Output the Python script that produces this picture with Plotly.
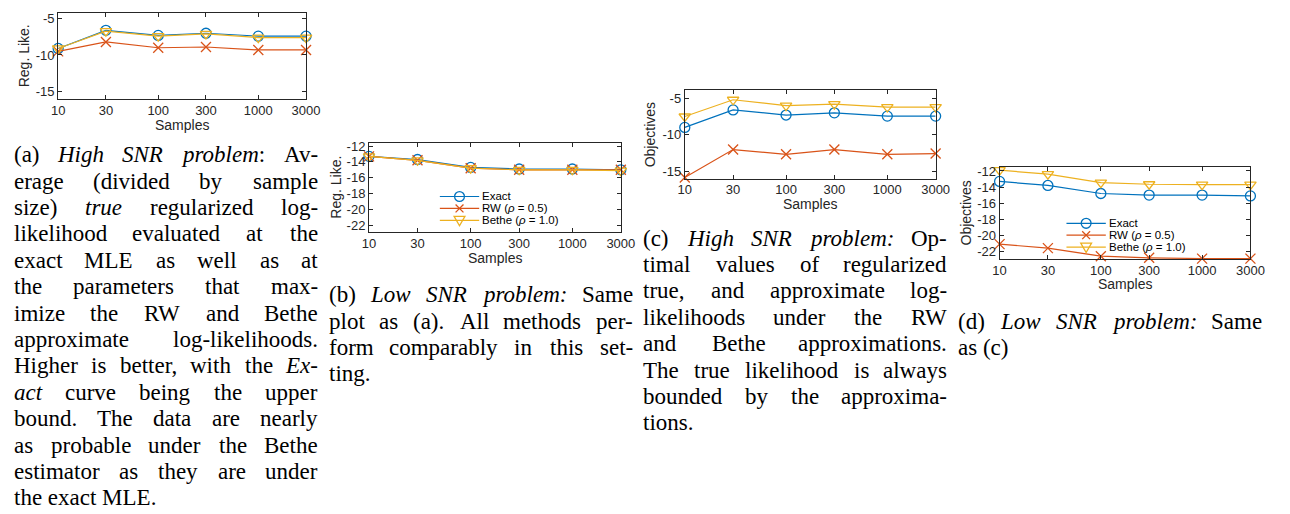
import math
import plotly.graph_objects as go

W, H = 1290, 514
SANS = "Liberation Sans, Arial, Helvetica, sans-serif"
SERIF = "Liberation Serif, Times New Roman, serif"

# ---------------- data ----------------
samples = [10, 30, 100, 300, 1000, 3000]
x_tick_text = ["10", "30", "100", "300", "1000", "3000"]

y_ticks_high = [-15, -10, -5]
y_ticks_high_text = ["-15", "-10", "-5"]
y_ticks_low = [-22, -20, -18, -16, -14, -12]
y_ticks_low_text = ["-22", "-20", "-18", "-16", "-14", "-12"]

series_names = ["Exact", "RW (<i>ρ</i> = 0.5)", "Bethe (<i>ρ</i> = 1.0)"]

# (a) High SNR, regularized likelihood
high_like_exact = [-9.1, -6.6, -7.3, -7.0, -7.4, -7.4]
high_like_rw = [-9.5, -8.2, -9.0, -8.9, -9.3, -9.3]
high_like_bethe = [-9.1, -6.7, -7.4, -7.1, -7.6, -7.6]

# (b) Low SNR, regularized likelihood
low_like_exact = [-13.3, -13.7, -14.7, -14.9, -14.9, -15.0]
low_like_rw = [-13.3, -13.8, -14.8, -15.0, -15.0, -15.0]
low_like_bethe = [-13.3, -13.8, -14.8, -15.0, -15.0, -15.1]

# (c) High SNR, objectives
high_obj_exact = [-9.0, -6.6, -7.3, -7.0, -7.45, -7.45]
high_obj_rw = [-15.9, -12.05, -12.7, -12.05, -12.7, -12.6]
high_obj_bethe = [-7.5, -5.2, -6.0, -5.8, -6.2, -6.2]

# (d) Low SNR, objectives
low_obj_exact = [-13.3, -13.8, -14.8, -15.0, -15.0, -15.1]
low_obj_rw = [-21.1, -21.6, -22.6, -22.8, -22.9, -22.9]
low_obj_bethe = [-11.9, -12.4, -13.45, -13.65, -13.7, -13.7]

# captions (words wrapped in _ are italic)
caption_a = [
    "(a) _High_ _SNR_ _problem_: Av-",
    "erage (divided by sample",
    "size) _true_ regularized log-",
    "likelihood evaluated at the",
    "exact MLE as well as at",
    "the parameters that max-",
    "imize the RW and Bethe",
    "approximate log-likelihoods.",
    "Higher is better, with the _Ex-_",
    "_act_ curve being the upper",
    "bound. The data are nearly",
    "as probable under the Bethe",
    "estimator as they are under",
    "the exact MLE.",
]
caption_b = [
    "(b) _Low_ _SNR_ _problem:_ Same",
    "plot as (a). All methods per-",
    "form comparably in this set-",
    "ting.",
]
caption_c = [
    "(c) _High_ _SNR_ _problem:_ Op-",
    "timal values of regularized",
    "true, and approximate log-",
    "likelihoods under the RW",
    "and Bethe approximations.",
    "The true likelihood is always",
    "bounded by the approxima-",
    "tions.",
]
caption_d = [
    "(d) _Low_ _SNR_ _problem:_ Same",
    "as (c)",
]

# ---------------- style ----------------
COLORS = ["#0072BD", "#D95319", "#EDB120"]
SYMBOLS = ["circle-open", "x-thin", "triangle-down-open"]
AX_COL = "#262626"


def px(x):
    return x / W


def py(y):
    return 1 - y / H


panels = [
    dict(n="", vals=(high_like_exact, high_like_rw, high_like_bethe), box=(52, 304, 9, 96),
         yr=(-16.1, -4.2), yt=(y_ticks_high, y_ticks_high_text), ylab="Reg. Like.", legend=None),
    dict(n="2", vals=(low_like_exact, low_like_rw, low_like_bethe), box=(368, 624, 140, 230),
         yr=(-22.9, -11.6), yt=(y_ticks_low, y_ticks_low_text), ylab="Reg. Like.",
         legend=dict(x0=440, ys=(194, 206, 218))),
    dict(n="3", vals=(high_obj_exact, high_obj_rw, high_obj_bethe), box=(689, 944, 87, 176),
         yr=(-16.05, -3.9), yt=(y_ticks_high, y_ticks_high_text), ylab="Objectives", legend=None),
    dict(n="4", vals=(low_obj_exact, low_obj_rw, low_obj_bethe), box=(1009, 1264, 164, 257),
         yr=(-22.95, -11.47), yt=(y_ticks_low, y_ticks_low_text), ylab="Objectives",
         legend=dict(x0=1077, ys=(221, 233, 245))),
]

fig = go.Figure()
layout = dict(
    width=W, height=H, autosize=False,
    margin=dict(l=0, r=0, t=0, b=0),
    paper_bgcolor="white", plot_bgcolor="white",
    font=dict(family=SANS, color=AX_COL),
    showlegend=False,
)

axis_common = dict(
    showline=True, linecolor=AX_COL, linewidth=1, mirror="ticks",
    ticks="inside", ticklen=4, tickcolor=AX_COL, tickwidth=1,
    showgrid=False, zeroline=False,
    tickfont=dict(family=SANS, size=13, color=AX_COL),
)

annotations = []
shapes = []

for p in panels:
    n = p["n"]
    x0, x1, y0, y1 = p["box"]
    for k in range(3):
        fig.add_trace(go.Scatter(
            x=samples, y=p["vals"][k], mode="lines+markers", name=series_names[k],
            xaxis="x" + n, yaxis="y" + n,
            line=dict(color=COLORS[k], width=1.2),
            marker=dict(symbol=SYMBOLS[k], size=10, color=COLORS[k],
                        line=dict(color=COLORS[k], width=1.3)),
            cliponaxis=False, showlegend=False,
        ))
    layout["xaxis" + n] = dict(
        axis_common, type="log", domain=[px(x0), px(x1)], anchor="y" + n,
        range=[math.log10(samples[0]), math.log10(samples[-1])],
        tickvals=samples, ticktext=x_tick_text, ticklabelstandoff=-1,
    )
    layout["yaxis" + n] = dict(
        axis_common, domain=[py(y1), py(y0)], anchor="x" + n,
        range=list(p["yr"]), tickvals=p["yt"][0], ticktext=p["yt"][1],
    )
    # axis titles
    annotations.append(dict(x=px((x0 + x1) / 2), y=py(y1 + 25.5), xref="paper", yref="paper",
                            xanchor="center", yanchor="middle", showarrow=False, text="Samples",
                            borderpad=0, borderwidth=0,
                            font=dict(family=SANS, size=14, color=AX_COL)))
    annotations.append(dict(x=px(x0 - 34.5), y=py((y0 + y1) / 2), xref="paper", yref="paper",
                            xanchor="center", yanchor="middle", showarrow=False, text=p["ylab"],
                            borderpad=0, borderwidth=0,
                            textangle=-90, font=dict(family=SANS, size=14, color=AX_COL)))
    # legend (boxless, inside the axes)
    lg = p["legend"]
    if lg:
        lx0 = lg["x0"]
        lx1 = lx0 + 40
        cx = (lx0 + lx1) / 2
        for k, ly in enumerate(lg["ys"]):
            c = COLORS[k]
            shapes.append(dict(type="line", xref="paper", yref="paper", x0=px(lx0), x1=px(lx1),
                               y0=py(ly), y1=py(ly), line=dict(color=c, width=1.2)))
            if k == 0:
                shapes.append(dict(type="circle", xref="paper", yref="paper",
                                   x0=px(cx - 5), x1=px(cx + 5), y0=py(ly + 5), y1=py(ly - 5),
                                   line=dict(color=c, width=1.3), fillcolor="rgba(0,0,0,0)"))
            elif k == 1:
                for s in (1, -1):
                    shapes.append(dict(type="line", xref="paper", yref="paper",
                                       x0=px(cx - 4), x1=px(cx + 4),
                                       y0=py(ly - 4 * s), y1=py(ly + 4 * s),
                                       line=dict(color=c, width=1.3)))
            else:
                path = "M{:.6f},{:.6f} L{:.6f},{:.6f} L{:.6f},{:.6f} Z".format(
                    px(cx - 5.5), py(ly - 4), px(cx + 5.5), py(ly - 4), px(cx), py(ly + 5.5))
                shapes.append(dict(type="path", xref="paper", yref="paper", path=path,
                                   line=dict(color=c, width=1.3), fillcolor="rgba(0,0,0,0)"))
            annotations.append(dict(x=px(lx1 + 3), y=py(ly), xref="paper", yref="paper",
                                    xanchor="left", yanchor="middle", showarrow=False,
                                    text=series_names[k], borderpad=0, borderwidth=0,
                                    font=dict(family=SANS, size=11.5, color="#000")))

# ---------------- captions (justified, per word) ----------------
CAP_FS = 23
ROMAN = {" ": 250, "(": 333, ")": 333, ",": 250, "-": 333, ".": 250, ":": 278,
         "A": 722, "B": 667, "C": 667, "D": 722, "E": 611, "F": 556, "G": 722, "H": 722,
         "I": 333, "J": 389, "K": 722, "L": 611, "M": 889, "N": 722, "O": 722, "P": 556,
         "Q": 722, "R": 667, "S": 556, "T": 611, "U": 722, "V": 722, "W": 944, "X": 722,
         "Y": 722, "Z": 611,
         "a": 444, "b": 500, "c": 444, "d": 500, "e": 444, "f": 333, "g": 500, "h": 500,
         "i": 278, "j": 278, "k": 500, "l": 278, "m": 778, "n": 500, "o": 500, "p": 500,
         "q": 500, "r": 333, "s": 389, "t": 278, "u": 500, "v": 500, "w": 722, "x": 500,
         "y": 500, "z": 444}
ITALIC = {" ": 250, "(": 333, ")": 333, ",": 250, "-": 333, ".": 250, ":": 333,
          "A": 611, "E": 611, "H": 722, "L": 556, "N": 667, "R": 611, "S": 500, "W": 833,
          "a": 500, "b": 500, "c": 444, "d": 500, "e": 444, "f": 278, "g": 500, "h": 500,
          "i": 278, "l": 278, "m": 722, "n": 500, "o": 500, "p": 500, "r": 389, "s": 389,
          "t": 278, "u": 500, "w": 667, "x": 444}


def segs(word):
    out, it, buf = [], False, ""
    for ch in word:
        if ch == "_":
            if buf:
                out.append((buf, it))
            buf = ""
            it = not it
        else:
            buf += ch
    if buf:
        out.append((buf, it))
    return out


def wwidth(word):
    return sum((ITALIC if it else ROMAN).get(c, 500) for t, it in segs(word) for c in t) / 1000 * CAP_FS


def wtext(word):
    return "".join(f"<i>{t}</i>" if it else t for t, it in segs(word))


def cap_word(x, y, word, anchor):
    annotations.append(dict(
        x=px(x), y=py(y), xref="paper", yref="paper",
        xanchor=anchor, yanchor="middle", showarrow=False,
        text=wtext(word), borderpad=0, borderwidth=0,
        font=dict(family=SERIF, size=CAP_FS, color="black"),
    ))


CAP_LINE = 26.6
CAP_WIDTH = 309
captions = [(caption_a, 7, 152), (caption_b, 327, 293), (caption_c, 647, 236), (caption_d, 967, 320)]
for lines, left, ytop in captions:
    right = left + CAP_WIDTH
    for i, line in enumerate(lines):
        words = line.split(" ")
        widths = [wwidth(w) for w in words]
        y = ytop + i * CAP_LINE
        last = i == len(lines) - 1
        if last or len(words) == 1:
            cap_word(left, y, line, "left")
            continue
        gap = (right - left - sum(widths)) / (len(words) - 1)
        x = left
        for j, (w, wd) in enumerate(zip(words, widths)):
            if j == 0:
                cap_word(left, y, w, "left")
            elif j == len(words) - 1:
                cap_word(right, y, w, "right")
            else:
                cap_word(x + wd / 2, y, w, "center")
            x += wd + gap

layout["annotations"] = annotations
layout["shapes"] = shapes
fig.update_layout(**layout)
fig.write_html("out.html")
